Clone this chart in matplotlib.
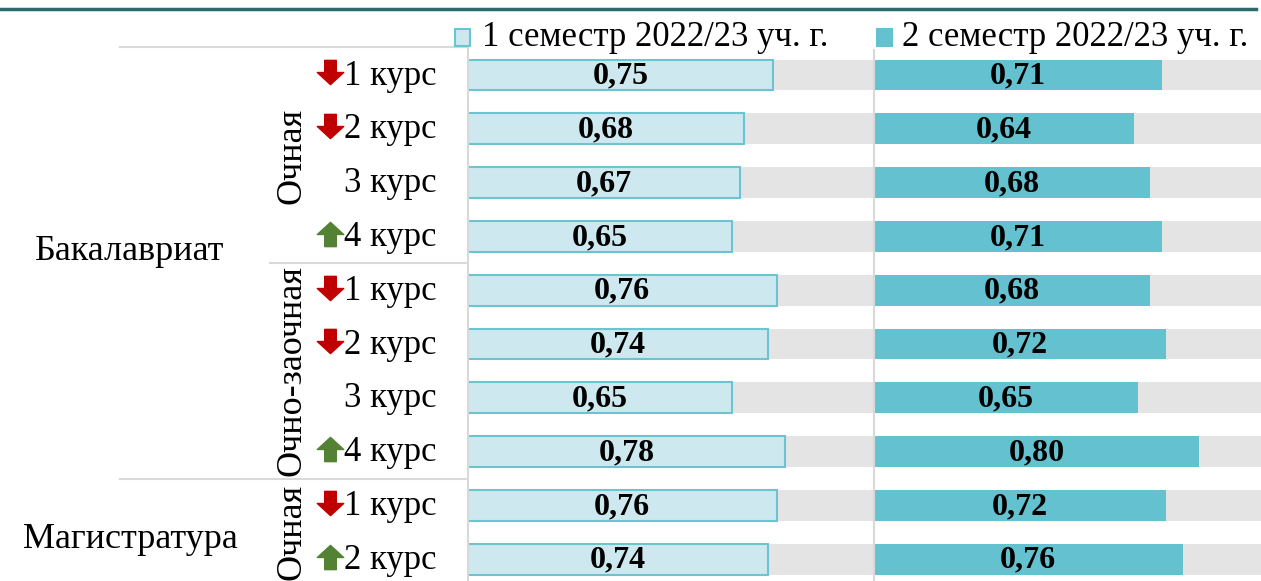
import matplotlib
matplotlib.use('Agg')
import matplotlib.pyplot as plt
import numpy as np
from itertools import groupby
from matplotlib.path import Path
from matplotlib.lines import Line2D
from matplotlib.patches import Rectangle
from matplotlib.transforms import blended_transform_factory

plt.rcParams['font.family'] = ['Liberation Serif', 'DejaVu Serif']

# data
levels = ['Бакалавриат'] * 8 + ['Магистратура'] * 2
forms = ['Очная'] * 4 + ['Очно-заочная'] * 4 + ['Очная'] * 2
courses = ['1 курс', '2 курс', '3 курс', '4 курс'] * 2 + ['1 курс', '2 курс']
sem1 = [0.75, 0.68, 0.67, 0.65, 0.76, 0.74, 0.65, 0.78, 0.76, 0.74]
sem2 = [0.71, 0.64, 0.68, 0.71, 0.68, 0.72, 0.65, 0.80, 0.72, 0.76]
trend = ['down', 'down', '', 'up', 'down', 'down', '', 'up', 'down', 'up']
series_names = ['1 семестр 2022/23 уч. г.', '2 семестр 2022/23 уч. г.']

c_light = '#cde9ef'
c_edge = '#6cc4d1'
c_dark = '#64c1cf'
c_bg = '#e4e4e4'
c_grid = '#d9d9d9'
c_red = '#c00000'
c_green = '#548235'

W, H = 1261, 581
fig = plt.figure(figsize=(W / 100, H / 100), dpi=100)

def fx(px):
    return px / W

def fy(py):
    return 1 - py / H

top_px, bot_px = 47, 581
x0, x1, scale = 468, 874, 406.0
row0, step = 75, 53.8
y_top = (top_px - row0) / step
y_bot = (bot_px - row0) / step

ax1 = fig.add_axes([fx(x0), 0, fx(x1) - fx(x0), fy(top_px)])
ax2 = fig.add_axes([fx(x1), 0, 1 - fx(x1), fy(50)])

y = np.arange(len(courses))
bh = 0.57
ax1.barh(y, [1.0] * len(y), height=bh, color=c_bg, zorder=1)
ax1.barh(y, sem1, height=bh, color=c_light, edgecolor=c_edge, linewidth=1.5, zorder=2)
ax2.barh(y, [1.0] * len(y), height=bh, color=c_bg, zorder=1)
ax2.barh(y, sem2, height=bh, color=c_dark, zorder=2)

for ax, vals in ((ax1, sem1), (ax2, sem2)):
    for yi, v in zip(y, vals):
        ax.text(v / 2, yi + 0.02, f'{v:.2f}'.replace('.', ','), ha='center', va='center',
                fontsize=23, fontweight='bold', zorder=3)
    ax.set_xticks([])
    ax.set_yticks([])
    for s in ('top', 'right', 'bottom'):
        ax.spines[s].set_visible(False)
    ax.spines['left'].set_color(c_grid)
    ax.spines['left'].set_linewidth(1.5)
    ax.patch.set_alpha(0)

ax1.set_xlim(0, 1.0)
ax2.set_xlim(0, (W - x1) / scale)
ax1.set_ylim(y_bot, y_top)
ax2.set_ylim(y_bot, (50 - row0) / step)

# hierarchical category axis
tr = blended_transform_factory(fig.transFigure, ax1.transData)

down = Path([(-0.22, 0.46), (0.22, 0.46), (0.22, 0.0), (0.5, 0.0), (0, -0.46),
             (-0.5, 0.0), (-0.22, 0.0), (-0.22, 0.46)],
            [Path.MOVETO] + [Path.LINETO] * 6 + [Path.CLOSEPOLY])
up = Path([(x, -yy) for x, yy in down.vertices], down.codes)

for yi, c, t in zip(y, courses, trend):
    ax1.text(fx(437), yi + 0.02, c, transform=tr, ha='right', va='center', fontsize=25,
             clip_on=False)
    if t:
        ax1.plot(fx(330), yi - 0.05, transform=tr, marker=down if t == 'down' else up,
                 markersize=19, color=c_red if t == 'down' else c_green,
                 linestyle='none', clip_on=False)

i = 0
for (lev, frm), grp in groupby(zip(levels, forms)):
    n = len(list(grp))
    ax1.text(fx(292), i + (n - 1) / 2, frm, transform=tr, rotation=90,
             ha='center', va='center', fontsize=26, clip_on=False)
    i += n
    if i < len(y):
        start = 120 if levels[i] != lev else 270
        ax1.add_line(Line2D([fx(start), fx(x0)], [i - 0.5, i - 0.5], transform=tr,
                            color=c_grid, linewidth=1.5, clip_on=False))

level_y = {'Бакалавриат': (252 - row0) / step, 'Магистратура': (540 - row0) / step}
for lev in dict.fromkeys(levels):
    ax1.text(fx(130), level_y[lev], lev, transform=tr, ha='center', va='center',
             fontsize=26, clip_on=False)
ax1.add_line(Line2D([fx(120), fx(x0)], [y_top, y_top], transform=tr,
                    color=c_grid, linewidth=1.5, clip_on=False))

# legend
for sx, tx, fc, ec, name in ((455, 482, c_light, c_edge, series_names[0]),
                             (877, 902, c_dark, c_dark, series_names[1])):
    fig.add_artist(Rectangle((fx(sx), fy(46)), fx(15), 17 / H, transform=fig.transFigure,
                             facecolor=fc, edgecolor=ec, linewidth=1.5))
    fig.text(fx(tx), fy(37), name, ha='left', va='center', fontsize=25)

# top rule
fig.add_artist(Line2D([0, fx(1256)], [fy(9), fy(9)], transform=fig.transFigure,
                      color='#2c6b6d', linewidth=2.5))

fig.savefig('out.png', dpi=100)
